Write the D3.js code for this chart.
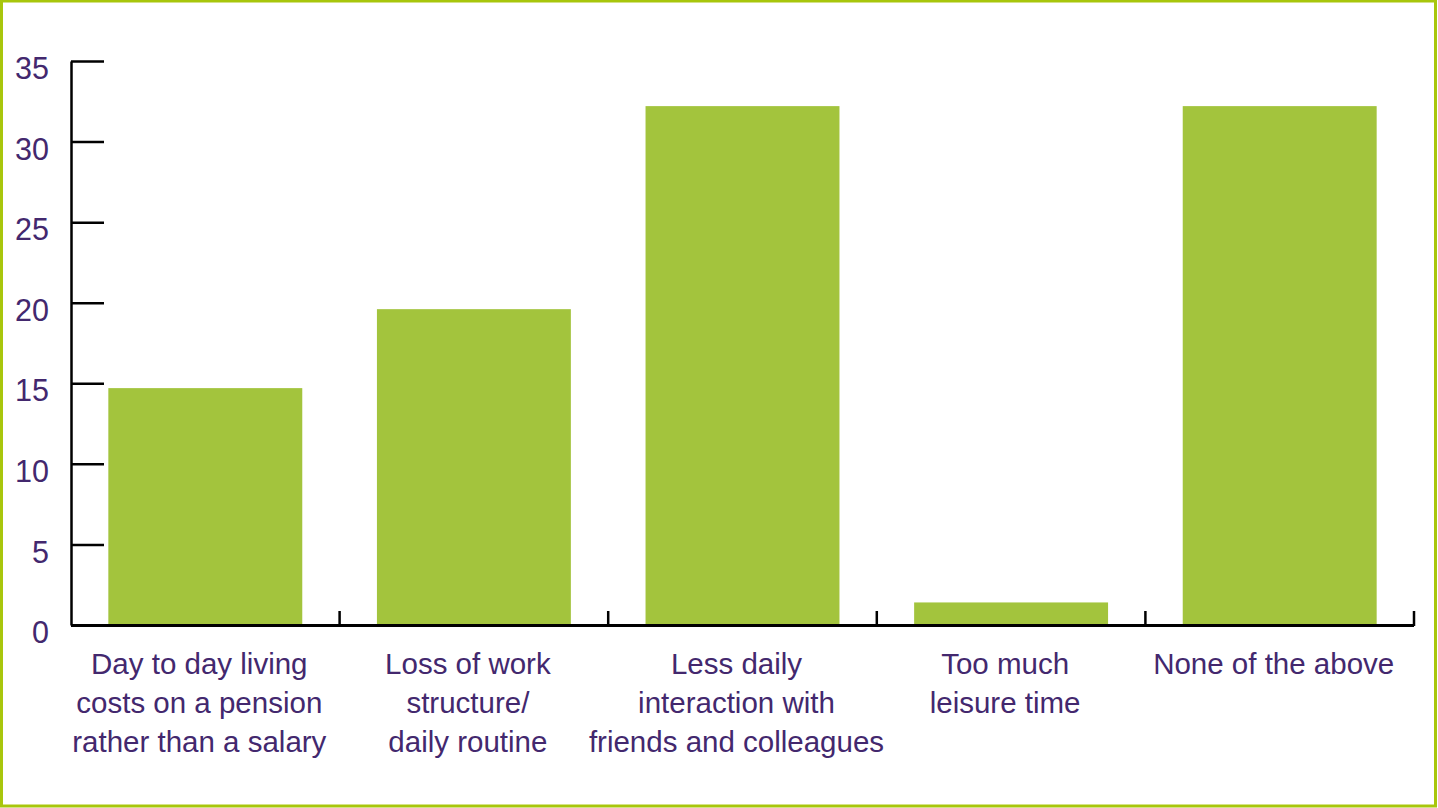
<!DOCTYPE html>
<html>
<head>
<meta charset="utf-8">
<script src="https://cdn.jsdelivr.net/npm/d3@7"></script>
<style>
  html, body { margin: 0; padding: 0; background: #fff; }
  svg { display: block; }
  text { font-family: "Liberation Sans", Arial, Helvetica, sans-serif; fill: #43286e; }
</style>
</head>
<body>
<svg id="chart" width="1438" height="808"></svg>
<script>
// Retirement concerns (% of respondents)
const categories = [
  ["Day to day living", "costs on a pension", "rather than a salary"],
  ["Loss of work", "structure/", "daily routine"],
  ["Less daily", "interaction with", "friends and colleagues"],
  ["Too much", "leisure time"],
  ["None of the above"]
];
const values = [14.7, 19.6, 32.2, 1.4, 32.2];
const yTicks = [0, 5, 10, 15, 20, 25, 30, 35];

(function draw() {
  const svg = d3.select("#chart");
  const W = 1438, H = 808;
  const plotLeft = 71, plotRight = 1414, plotTop = 61, plotBottom = 625;
  const barColor = "#a3c43d";
  const frameColor = "#a8c60c";
  const axisColor = "#000";

  // outer frame
  svg.append("rect")
    .attr("x", 1.5).attr("y", 1).attr("width", W - 4).attr("height", H - 3)
    .attr("fill", "none").attr("stroke", frameColor).attr("stroke-width", 3);

  const keys = categories.map((c, i) => i);
  const x = d3.scaleBand().domain(keys).range([plotLeft, plotRight])
    .paddingInner(0.278).paddingOuter(0.139);
  const y = d3.scaleLinear().domain([0, 35]).range([plotBottom, plotTop]);

  // bars
  svg.append("g").selectAll("rect")
    .data(values)
    .join("rect")
    .attr("x", (d, i) => x(i))
    .attr("y", d => y(d))
    .attr("width", x.bandwidth())
    .attr("height", d => y(0) - y(d))
    .attr("fill", barColor);

  // y axis: ticks point inward, labels sit below each tick
  const yAxis = svg.append("g")
    .attr("transform", `translate(${plotLeft},0)`)
    .call(d3.axisRight(y).tickValues(yTicks).tickSize(33).tickSizeOuter(0).tickFormat(d3.format("d")));
  yAxis.select(".domain").attr("stroke", axisColor).attr("stroke-width", 2.5);
  yAxis.selectAll(".tick line").attr("stroke", axisColor).attr("stroke-width", 2.5);
  yAxis.selectAll(".tick text")
    .attr("x", -22).attr("dy", "0.58em")
    .attr("text-anchor", "end")
    .style("font-size", "30.5px").attr("fill", "#43286e");

  // x axis: baseline with short upward ticks at band boundaries
  const xAxisG = svg.append("g");
  xAxisG.append("line")
    .attr("x1", plotLeft).attr("x2", plotRight)
    .attr("y1", y(0) + 0.5).attr("y2", y(0) + 0.5)
    .attr("stroke", axisColor).attr("stroke-width", 3);
  const bounds = keys.map(i => x(i) + x.bandwidth() + x.step() * x.paddingInner() / 2);
  xAxisG.selectAll("line.tk")
    .data(bounds)
    .join("line")
    .attr("class", "tk")
    .attr("x1", d => d).attr("x2", d => d)
    .attr("y1", y(0) - 14).attr("y2", y(0) + 1)
    .attr("stroke", axisColor).attr("stroke-width", 2.5);

  // category labels, centred slightly left of each band
  const lab = svg.append("g").selectAll("text")
    .data(categories)
    .join("text")
    .attr("text-anchor", "middle")
    .attr("x", (d, i) => x(i) + x.bandwidth() / 2 - 6)
    .attr("y", 674)
    .style("font-size", "29.5px");
  lab.selectAll("tspan")
    .data(d => d)
    .join("tspan")
    .attr("x", function() { return this.parentNode.getAttribute("x"); })
    .attr("dy", (d, j) => j === 0 ? 0 : 39)
    .text(d => d);
})();
</script>
</body>
</html>
